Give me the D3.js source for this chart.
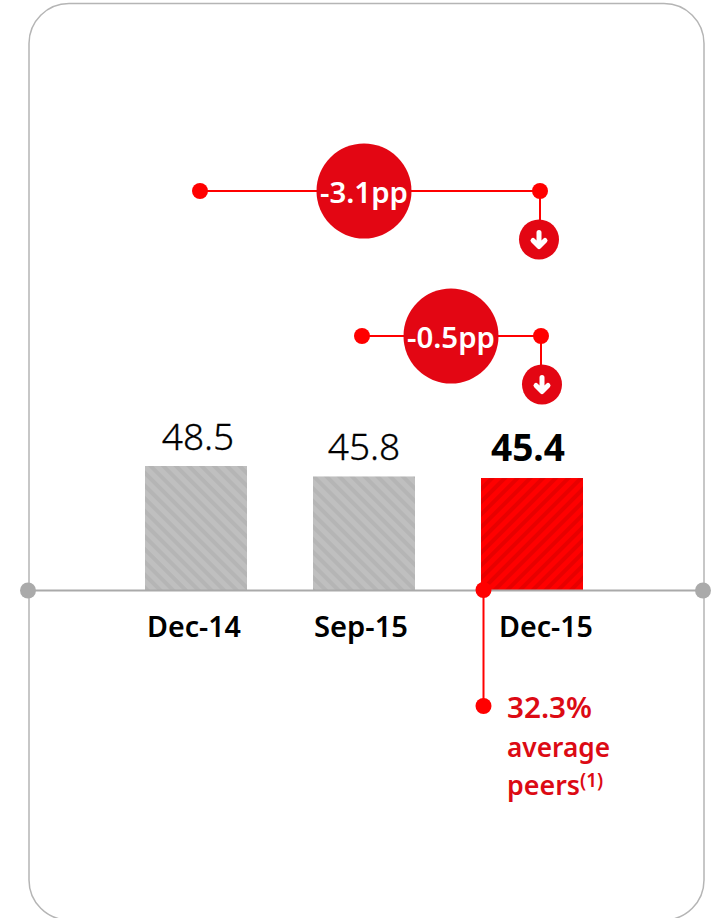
<!DOCTYPE html>
<html>
<head>
<meta charset="utf-8">
<script src="https://d3js.org/d3.v7.min.js"></script>
<style>
  html, body { margin: 0; padding: 0; background: #fff; }
  svg { display: block; }
  text { font-family: "Noto Sans", "Open Sans", sans-serif; }
</style>
</head>
<body>
<div id="chart"></div>
<script>
var categories = ["Dec-14", "Sep-15", "Dec-15"];
var values = [48.5, 45.8, 45.4];
var deltaLabels = ["-3.1pp", "-0.5pp"];
var deltaFrom = ["Dec-14", "Sep-15"];
var peerLines = ["32.3%", "average", "peers"];

var fullWidth = 723;
var fullHeight = 918;
var baseline = 590;
var red = "#e30613";
var dotRed = "#ff0000";
var grey = "#aaaaaa";

var svg = d3.select("#chart").append("svg").attr("width", fullWidth).attr("height", fullHeight);

var xScale = d3.scaleBand()
               .domain(categories)
               .range([112, 616])
               .paddingInner(66 / 168)
               .paddingOuter(33 / 168);

// the axis of the original is cut off, bars do not start at zero
var yScale = d3.scaleLinear()
               .domain([16.5, 48.5])
               .range([baseline, 466]);

function center(c){
  return xScale(c) + xScale.bandwidth() / 2;
}

var defs = svg.append("defs");
function hatch(id, bg, fg, angle){
  var p = defs.append("pattern")
              .attr("id", id)
              .attr("patternUnits", "userSpaceOnUse")
              .attr("width", 9)
              .attr("height", 9)
              .attr("patternTransform", "rotate(" + angle + ")");
  p.append("rect").attr("width", 9).attr("height", 9).attr("fill", bg);
  p.append("rect").attr("width", 4).attr("height", 9).attr("fill", fg);
}
hatch("hatch-grey", "#bfbfbf", "#b5b5b5", -45);
hatch("hatch-red", "#ff0000", "#e80000", 45);

// panel
svg.append("rect")
   .attr("x", 29).attr("y", 3.5)
   .attr("width", 675).attr("height", 916.5)
   .attr("rx", 40).attr("ry", 40)
   .attr("fill", "none").attr("stroke", "#b5b5b5").attr("stroke-width", 1.5);

// bars
svg.selectAll("rect.bar")
   .data(categories)
   .enter()
   .append("rect")
   .attr("class", "bar")
   .attr("x", function(d){ return xScale(d); })
   .attr("y", function(d, i){ return yScale(values[i]); })
   .attr("width", xScale.bandwidth())
   .attr("height", function(d, i){ return baseline - yScale(values[i]); })
   .attr("fill", function(d, i){ return i == 2 ? "url(#hatch-red)" : "url(#hatch-grey)"; });

// baseline
svg.append("line")
   .attr("x1", 28).attr("x2", 703)
   .attr("y1", baseline + 0.5).attr("y2", baseline + 0.5)
   .attr("stroke", grey).attr("stroke-width", 2);
svg.selectAll("circle.end")
   .data([28, 703])
   .enter()
   .append("circle")
   .attr("class", "end")
   .attr("cx", function(d){ return d; })
   .attr("cy", baseline + 0.5)
   .attr("r", 8)
   .attr("fill", grey);

// value labels
var valueShift = [2, 0, -4];
svg.selectAll("text.value")
   .data(values)
   .enter()
   .append("text")
   .attr("class", "value")
   .attr("x", function(d, i){ return center(categories[i]) + valueShift[i]; })
   .attr("y", function(d, i){ return yScale(d) - 16 + (i == 2 ? -1 : 0); })
   .attr("text-anchor", "middle")
   .attr("font-family", function(d, i){ return i == 2 ? "'Noto Sans'" : "'Open Sans'"; })
   .attr("font-size", 37)
   .attr("font-weight", function(d, i){ return i == 2 ? 700 : 300; })
   .attr("stroke", function(d, i){ return i == 2 ? "none" : "#000"; })
   .attr("stroke-width", 0.3)
   .attr("fill", "#000")
   .text(function(d){ return d.toFixed(1); });

// category labels
var labelShift = [-2, -3, 14];
svg.selectAll("text.cat")
   .data(categories)
   .enter()
   .append("text")
   .attr("class", "cat")
   .attr("x", function(d, i){ return center(d) + labelShift[i]; })
   .attr("y", 637)
   .attr("text-anchor", "middle")
   .attr("font-size", 29)
   .attr("font-weight", 600)
   .attr("textLength", 94)
   .attr("lengthAdjust", "spacingAndGlyphs")
   .attr("fill", "#000")
   .text(function(d){ return d; });

// change brackets
var bracketY = [191, 336];
var bracketStart = [4, -2];
var bracketEnd = [8, 9];
var bubbleX = [364, 451];
var badgeShift = [-1, 1];
deltaLabels.forEach(function(label, i){
  var x1 = center(deltaFrom[i]) + bracketStart[i];
  var x2 = center("Dec-15") + bracketEnd[i];
  var y = bracketY[i];
  var g = svg.append("g");
  g.append("line").attr("x1", x1).attr("x2", x2).attr("y1", y).attr("y2", y)
   .attr("stroke", dotRed).attr("stroke-width", 2);
  g.append("line").attr("x1", x2).attr("x2", x2).attr("y1", y).attr("y2", y + 48)
   .attr("stroke", dotRed).attr("stroke-width", 2);
  g.append("circle").attr("cx", x1).attr("cy", y).attr("r", 8).attr("fill", dotRed);
  g.append("circle").attr("cx", x2).attr("cy", y).attr("r", 8).attr("fill", dotRed);
  g.append("circle").attr("cx", bubbleX[i]).attr("cy", y).attr("r", 47.5).attr("fill", red);
  g.append("text")
   .attr("x", bubbleX[i]).attr("y", y + 12)
   .attr("text-anchor", "middle")
   .attr("font-size", 29)
   .attr("font-weight", 600)
   .attr("textLength", 88)
   .attr("lengthAdjust", "spacingAndGlyphs")
   .attr("fill", "#fff")
   .text(label);
  // arrow badge
  var ax = x2 + badgeShift[i];
  var ay = y + 48.5;
  g.append("circle").attr("cx", ax).attr("cy", ay).attr("r", 20).attr("fill", red);
  g.append("path")
   .attr("d", "M" + ax + "," + (ay - 7) + "V" + (ay + 6) + "M" + (ax - 6) + "," + (ay + 1) + "L" + ax + "," + (ay + 7) + "L" + (ax + 6) + "," + (ay + 1))
   .attr("fill", "none").attr("stroke", "#fff").attr("stroke-width", 5).attr("stroke-linecap", "round").attr("stroke-linejoin", "round");
});

// peers note
var peerX = xScale("Dec-15") + 2.5;
svg.append("line").attr("x1", peerX).attr("x2", peerX).attr("y1", baseline).attr("y2", 706)
   .attr("stroke", dotRed).attr("stroke-width", 2);
svg.selectAll("circle.peer")
   .data([baseline, 706])
   .enter()
   .append("circle")
   .attr("class", "peer")
   .attr("cx", peerX)
   .attr("cy", function(d){ return d; })
   .attr("r", 8)
   .attr("fill", dotRed);
var peerSizes = [29, 27, 27];
var peerLengths = [85, 103, 73];
svg.selectAll("text.peer")
   .data(peerLines)
   .enter()
   .append("text")
   .attr("class", "peer")
   .attr("x", 507)
   .attr("y", function(d, i){ return 718 + i * 38.5; })
   .attr("font-size", function(d, i){ return peerSizes[i]; })
   .attr("font-weight", 600)
   .attr("textLength", function(d, i){ return peerLengths[i]; })
   .attr("lengthAdjust", "spacingAndGlyphs")
   .attr("fill", "#dc0a14")
   .text(function(d){ return d; });
svg.append("text")
   .attr("x", 580).attr("y", 787)
   .attr("font-size", 19)
   .attr("font-weight", 600)
   .attr("fill", "#dc0a14")
   .text("(1)");
</script>
</body>
</html>
